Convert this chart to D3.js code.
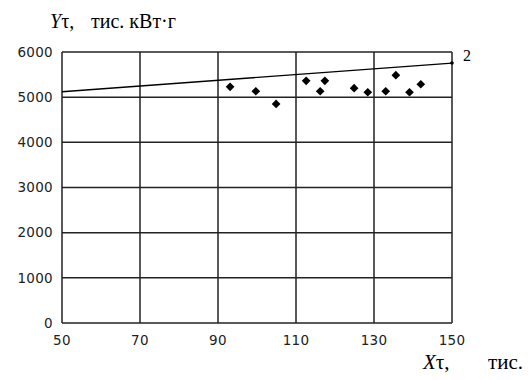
<!DOCTYPE html>
<html>
<head>
<meta charset="utf-8">
<script src="https://cdn.jsdelivr.net/npm/d3@7"></script>
<style>
  body { margin: 0; background: #fff; }
  .tick-label { font-family: "DejaVu Sans", sans-serif; font-size: 13.5px; letter-spacing: 0.3px; fill: #222; }
  .title { font-family: "Liberation Serif", "Times New Roman", serif; font-size: 20px; fill: #000; }
</style>
</head>
<body>
<svg width="530" height="380"></svg>
<script>
// observed points (X, Y)
var xs = [93.1, 99.7, 104.9, 112.6, 116.2, 117.4, 124.9, 128.4, 133.0, 135.6, 139.1, 142.0];
var ys = [5228, 5131, 4851, 5362, 5131, 5362, 5198, 5109, 5131, 5486, 5109, 5286];

// trend line (curve 2)
var lineX = [50, 150];
var lineY = [5120, 5755];

var xTicks = [50, 70, 90, 110, 130, 150];
var yTicks = [0, 1000, 2000, 3000, 4000, 5000, 6000];

var svg = d3.select("svg"),
    margin = {top: 52, right: 78, bottom: 57, left: 62},
    width = 530 - margin.left - margin.right,
    height = 380 - margin.top - margin.bottom,
    g = svg.append("g").attr("transform", "translate(" + margin.left + "," + margin.top + ")");

var x = d3.scaleLinear().domain([50, 150]).range([0, width]);
var y = d3.scaleLinear().domain([0, 6000]).range([height, 0]);

// grid
g.selectAll(".vgrid")
  .data(xTicks)
  .enter().append("line")
    .attr("x1", d => x(d)).attr("x2", d => x(d))
    .attr("y1", 0).attr("y2", height)
    .attr("stroke", "#222").attr("stroke-width", 1.5);

g.selectAll(".hgrid")
  .data(yTicks)
  .enter().append("line")
    .attr("x1", 0).attr("x2", width)
    .attr("y1", d => y(d)).attr("y2", d => y(d))
    .attr("stroke", "#222").attr("stroke-width", 1.5);

// tick labels
g.selectAll(".ylab")
  .data(yTicks)
  .enter().append("text")
    .attr("class", "tick-label")
    .attr("x", -9)
    .attr("y", d => y(d))
    .attr("dy", "0.35em")
    .attr("text-anchor", "end")
    .text(d => d);

g.selectAll(".xlab")
  .data(xTicks)
  .enter().append("text")
    .attr("class", "tick-label")
    .attr("x", d => x(d))
    .attr("y", height + 17)
    .attr("dy", "0.35em")
    .attr("text-anchor", "middle")
    .text(d => d);

// trend line
var trend = lineX.map((v, i) => [v, lineY[i]]);
g.append("path")
  .datum(trend)
  .attr("fill", "none")
  .attr("stroke", "#000")
  .attr("stroke-width", 1.3)
  .attr("d", d3.line().x(d => x(d[0])).y(d => y(d[1])));

g.append("circle")
  .attr("cx", x(lineX[1])).attr("cy", y(lineY[1]))
  .attr("r", 1.8).attr("fill", "#000");

g.append("text")
  .attr("class", "title")
  .attr("x", x(lineX[1]) + 11)
  .attr("y", y(lineY[1]) - 2)
  .style("font-size", "16px")
  .text("2");

// points (filled diamonds)
var sq = d3.symbol().type(d3.symbolSquare).size(38);
g.selectAll(".pt")
  .data(xs.map((v, i) => [v, ys[i]]))
  .enter().append("path")
    .attr("d", sq)
    .attr("transform", d => "translate(" + x(d[0]) + "," + y(d[1]) + ") rotate(45)")
    .attr("fill", "#000");

// axis titles
var yt = svg.append("text").attr("class", "title").attr("x", 50).attr("y", 28);
yt.append("tspan").attr("font-style", "italic").text("Y");
yt.append("tspan").text("τ,");
yt.append("tspan").attr("x", 91).text("тис. кВт·г");

var xt = svg.append("text").attr("class", "title").attr("x", 423).attr("y", 369).style("font-size", "21px");
xt.append("tspan").attr("font-style", "italic").text("X");
xt.append("tspan").text("τ,");
xt.append("tspan").attr("x", 488).text("тис.");
</script>
</body>
</html>
